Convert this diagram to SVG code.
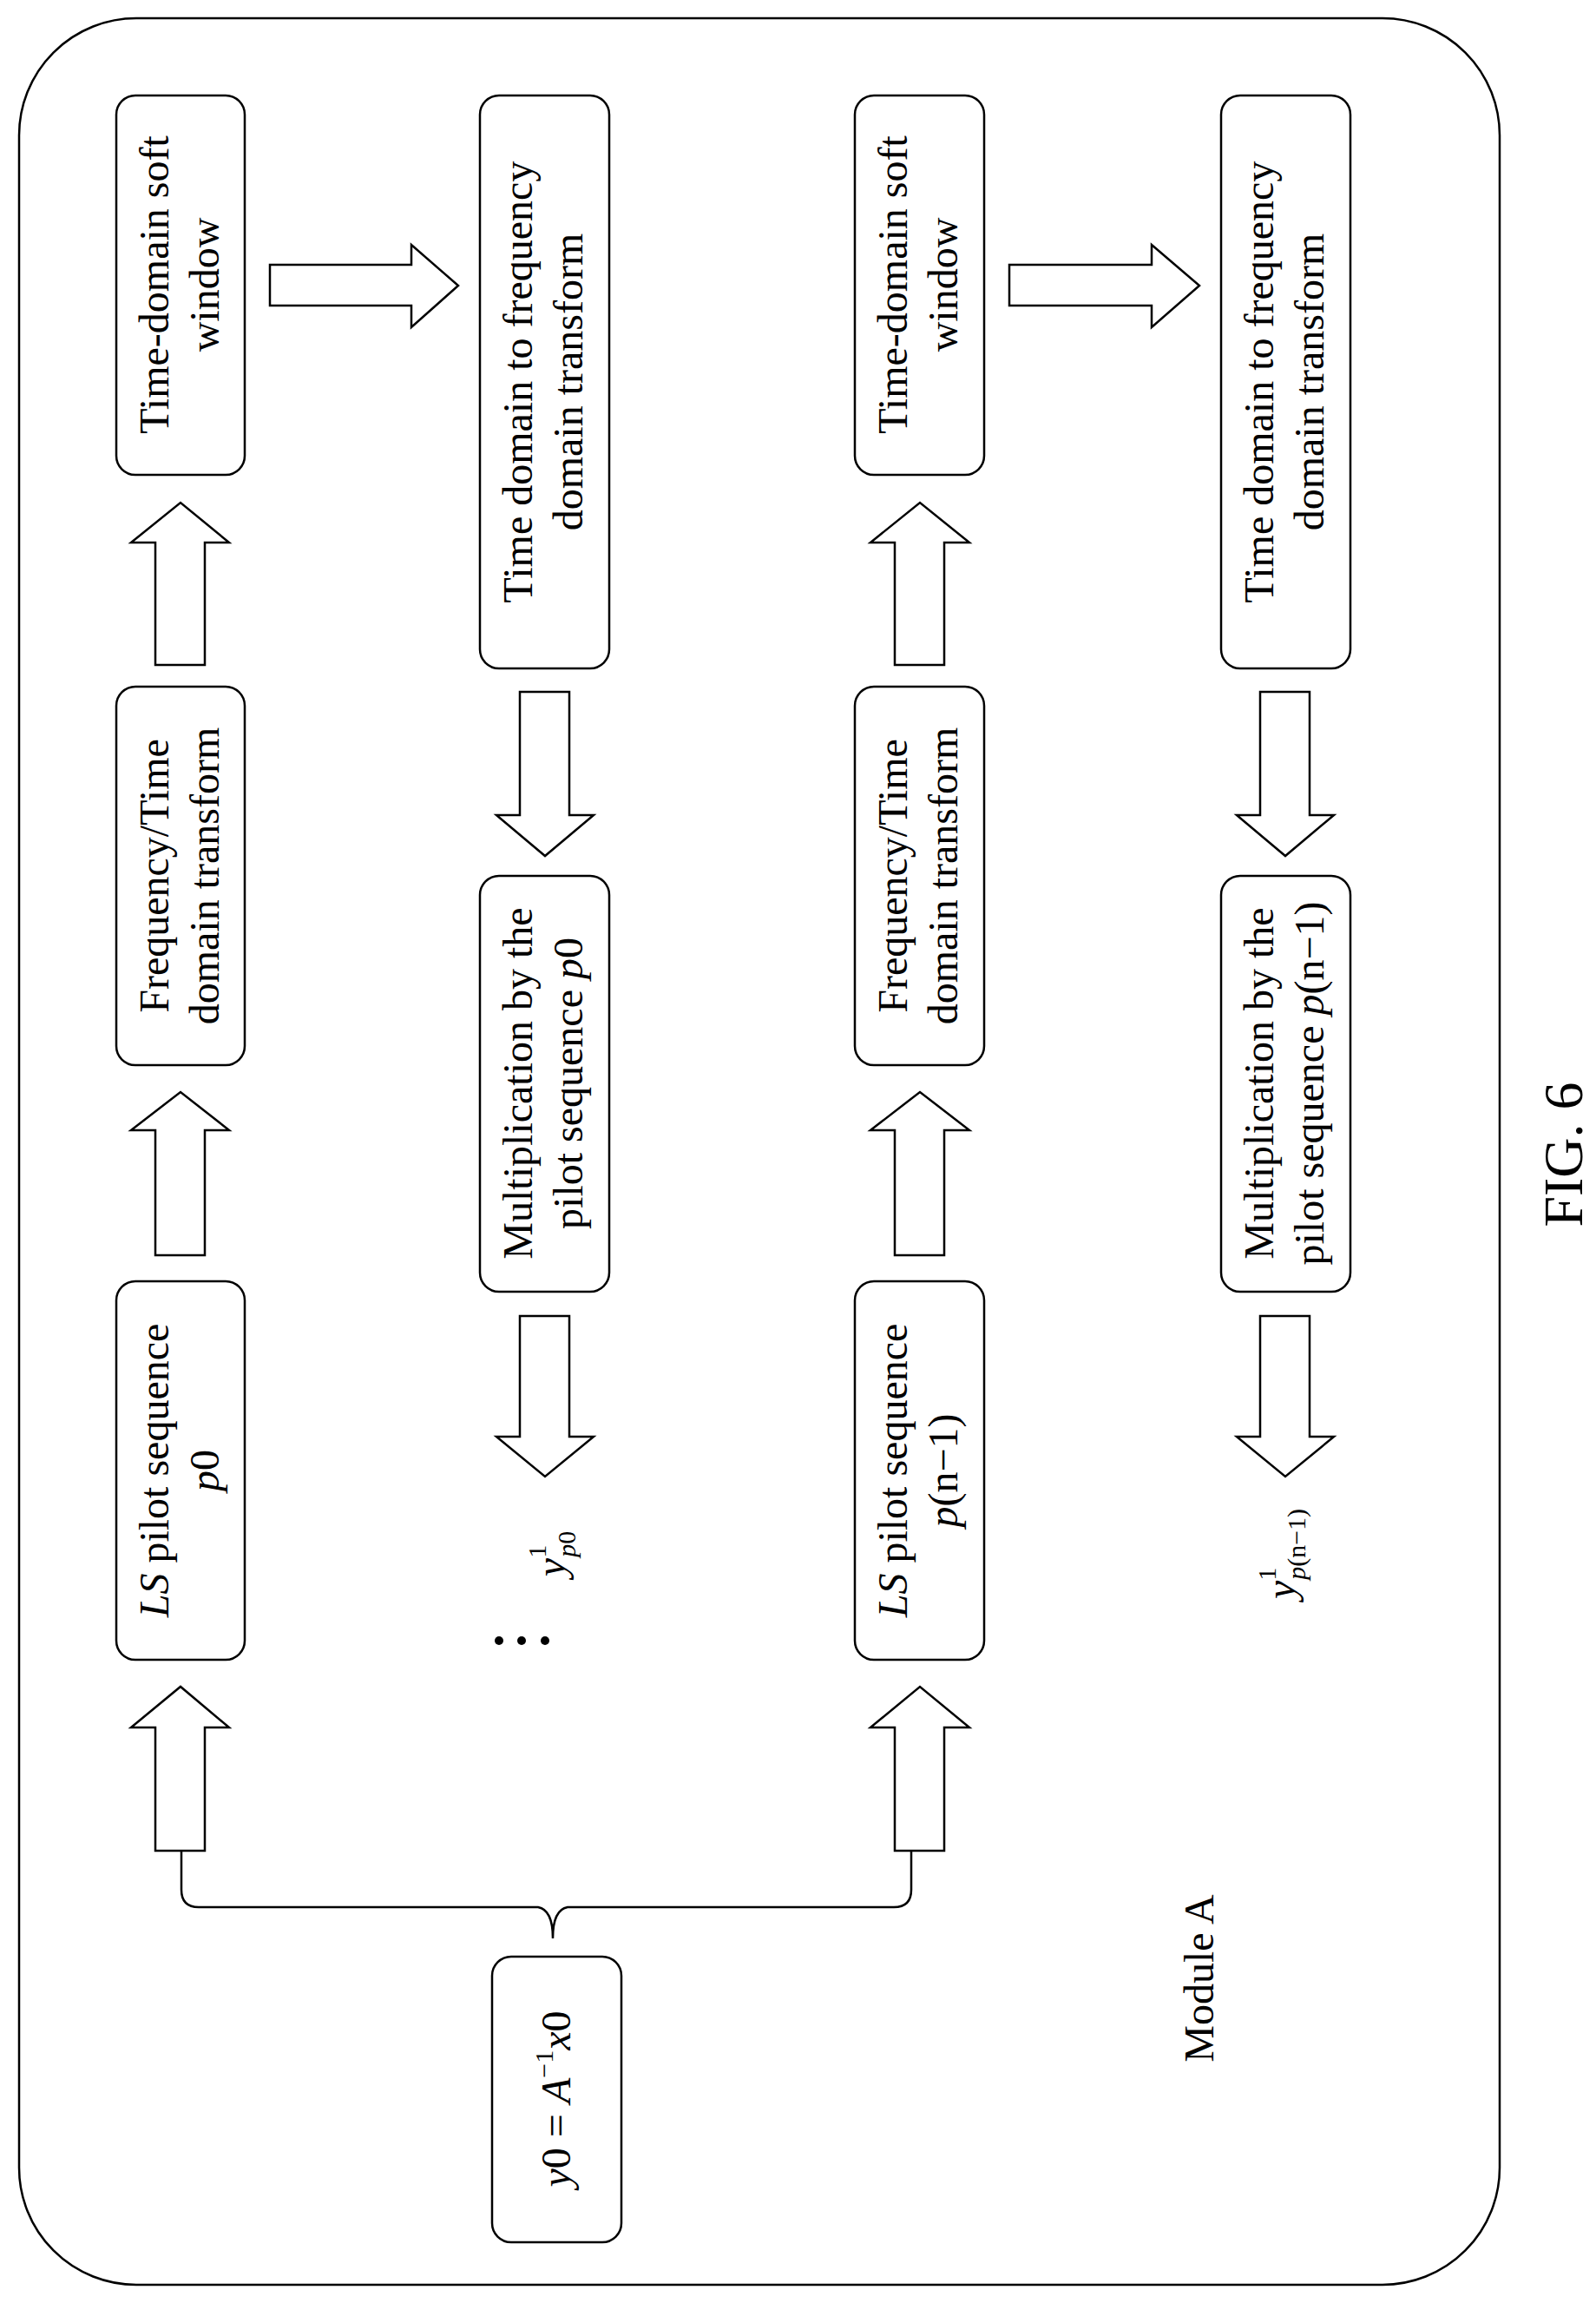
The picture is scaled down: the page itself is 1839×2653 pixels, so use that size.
<svg xmlns="http://www.w3.org/2000/svg" width="1839" height="2653" viewBox="0 0 1839 2653">
<style>
.b{fill:#fff;stroke:#000;stroke-width:2.5}
.a{fill:#fff;stroke:#000;stroke-width:2.5;stroke-linejoin:miter}
text{font-family:"Liberation Serif","Times New Roman",serif;font-size:48px;fill:#000;text-anchor:middle}
.i{font-style:italic}
.s{font-size:30px}
</style>
<rect x="22" y="21" width="1706" height="2611" rx="135" ry="135" fill="none" stroke="#000" stroke-width="2.5"/>
<g id="n-tdsw1"><rect class="b" x="134" y="110" width="148" height="437" rx="22"/>
<text transform="translate(208,328) rotate(-90)"><tspan x="0" y="-14">Time-domain soft</tspan><tspan x="0" y="44">window</tspan></text></g>
<g id="n-ft1"><rect class="b" x="134" y="791" width="148" height="436" rx="22"/>
<text transform="translate(208,1009) rotate(-90)"><tspan x="0" y="-14">Frequency/Time</tspan><tspan x="0" y="44">domain transform</tspan></text></g>
<g id="n-ls1"><rect class="b" x="134" y="1476" width="148" height="436" rx="22"/>
<text transform="translate(208,1694) rotate(-90)"><tspan x="0" y="-14"><tspan class="i">LS</tspan> pilot sequence</tspan><tspan x="0" y="44" class="i">p</tspan><tspan>0</tspan></text></g>
<g id="n-tf1"><rect class="b" x="553" y="110" width="149" height="660" rx="22"/>
<text transform="translate(627,440) rotate(-90)"><tspan x="0" y="-14">Time domain to frequency</tspan><tspan x="0" y="44">domain transform</tspan></text></g>
<g id="n-mul1"><rect class="b" x="553" y="1009" width="149" height="479" rx="22"/>
<text transform="translate(627,1248) rotate(-90)"><tspan x="0" y="-14">Multiplication by the</tspan><tspan x="0" y="44">pilot sequence <tspan class="i">p</tspan>0</tspan></text></g>
<g id="n-tdsw2"><rect class="b" x="985" y="110" width="149" height="437" rx="22"/>
<text transform="translate(1059,328) rotate(-90)"><tspan x="0" y="-14">Time-domain soft</tspan><tspan x="0" y="44">window</tspan></text></g>
<g id="n-ft2"><rect class="b" x="985" y="791" width="149" height="436" rx="22"/>
<text transform="translate(1059,1009) rotate(-90)"><tspan x="0" y="-14">Frequency/Time</tspan><tspan x="0" y="44">domain transform</tspan></text></g>
<g id="n-ls2"><rect class="b" x="985" y="1476" width="149" height="436" rx="22"/>
<text transform="translate(1059,1694) rotate(-90)"><tspan x="0" y="-14"><tspan class="i">LS</tspan> pilot sequence</tspan><tspan x="0" y="44"><tspan class="i">p</tspan>(n−1)</tspan></text></g>
<g id="n-tf2"><rect class="b" x="1407" y="110" width="149" height="660" rx="22"/>
<text transform="translate(1481,440) rotate(-90)"><tspan x="0" y="-14">Time domain to frequency</tspan><tspan x="0" y="44">domain transform</tspan></text></g>
<g id="n-mul2"><rect class="b" x="1407" y="1009" width="149" height="479" rx="22"/>
<text transform="translate(1481,1248) rotate(-90)"><tspan x="0" y="-14">Multiplication by the</tspan><tspan x="0" y="44">pilot sequence <tspan class="i">p</tspan>(n−1)</tspan></text></g>
<g id="n-y0"><rect class="b" x="567" y="2254" width="149" height="329" rx="22"/>
<text transform="translate(657,2418) rotate(-90)"><tspan class="i">y</tspan>0 = <tspan class="i">A</tspan><tspan class="s" dy="-20">−1</tspan><tspan class="i" dy="20">x</tspan>0</text></g>
<g id="labels">
<text transform="translate(651,1790) rotate(-90)"><tspan class="i">y</tspan><tspan class="s" dy="-22">1</tspan><tspan class="s i" dx="-14" dy="34">p</tspan><tspan class="s" >0</tspan></text>
<text transform="translate(1492,1790) rotate(-90)"><tspan class="i">y</tspan><tspan class="s" dy="-22">1</tspan><tspan class="s i" dx="-14" dy="34">p</tspan><tspan class="s">(n−1)</tspan></text>
<circle cx="575" cy="1890" r="5"/><circle cx="601" cy="1890" r="5"/><circle cx="628" cy="1890" r="5"/>
<text transform="translate(1398,2279) rotate(-90)">Module A</text>
<text transform="translate(1823,1330) rotate(-90)" style="font-size:64px">FIG. 6</text>
</g>
<g id="connectors">
<path class="a" d="M179,766 V625 H151 L208,579 L264,625 H236 V766 Z"/>
<path class="a" d="M179,1446 V1302 H151 L208,1258 L264,1302 H236 V1446 Z"/>
<path class="a" d="M179,2132 V1990 H151 L208,1943 L264,1990 H236 V2132 Z"/>
<path class="a" d="M1031,766 V625 H1003 L1060,579 L1117,625 H1088 V766 Z"/>
<path class="a" d="M1031,1446 V1302 H1003 L1060,1258 L1117,1302 H1088 V1446 Z"/>
<path class="a" d="M1031,2132 V1990 H1003 L1060,1943 L1117,1990 H1088 V2132 Z"/>
<path class="a" d="M311,305 H474 V282 L528,329 L474,377 V352 H311 Z"/>
<path class="a" d="M1163,305 H1327 V282 L1382,329 L1327,377 V352 H1163 Z"/>
<path class="a" d="M599,797 H656 V939 H684 L628,986 L572,939 H599 Z"/>
<path class="a" d="M599,1516 H656 V1655 H684 L628,1701 L572,1655 H599 Z"/>
<path class="a" d="M1452,797 H1509 V939 H1537 L1481,986 L1425,939 H1452 Z"/>
<path class="a" d="M1452,1516 H1509 V1655 H1537 L1481,1701 L1425,1655 H1452 Z"/>
<path fill="none" stroke="#000" stroke-width="2.5" d="M209,2132 V2177 Q209,2197 229,2197 H620 Q637,2200 637,2233 Q637,2200 654,2197 H1030 Q1050,2197 1050,2177 V2132"/>
</g>
</svg>
